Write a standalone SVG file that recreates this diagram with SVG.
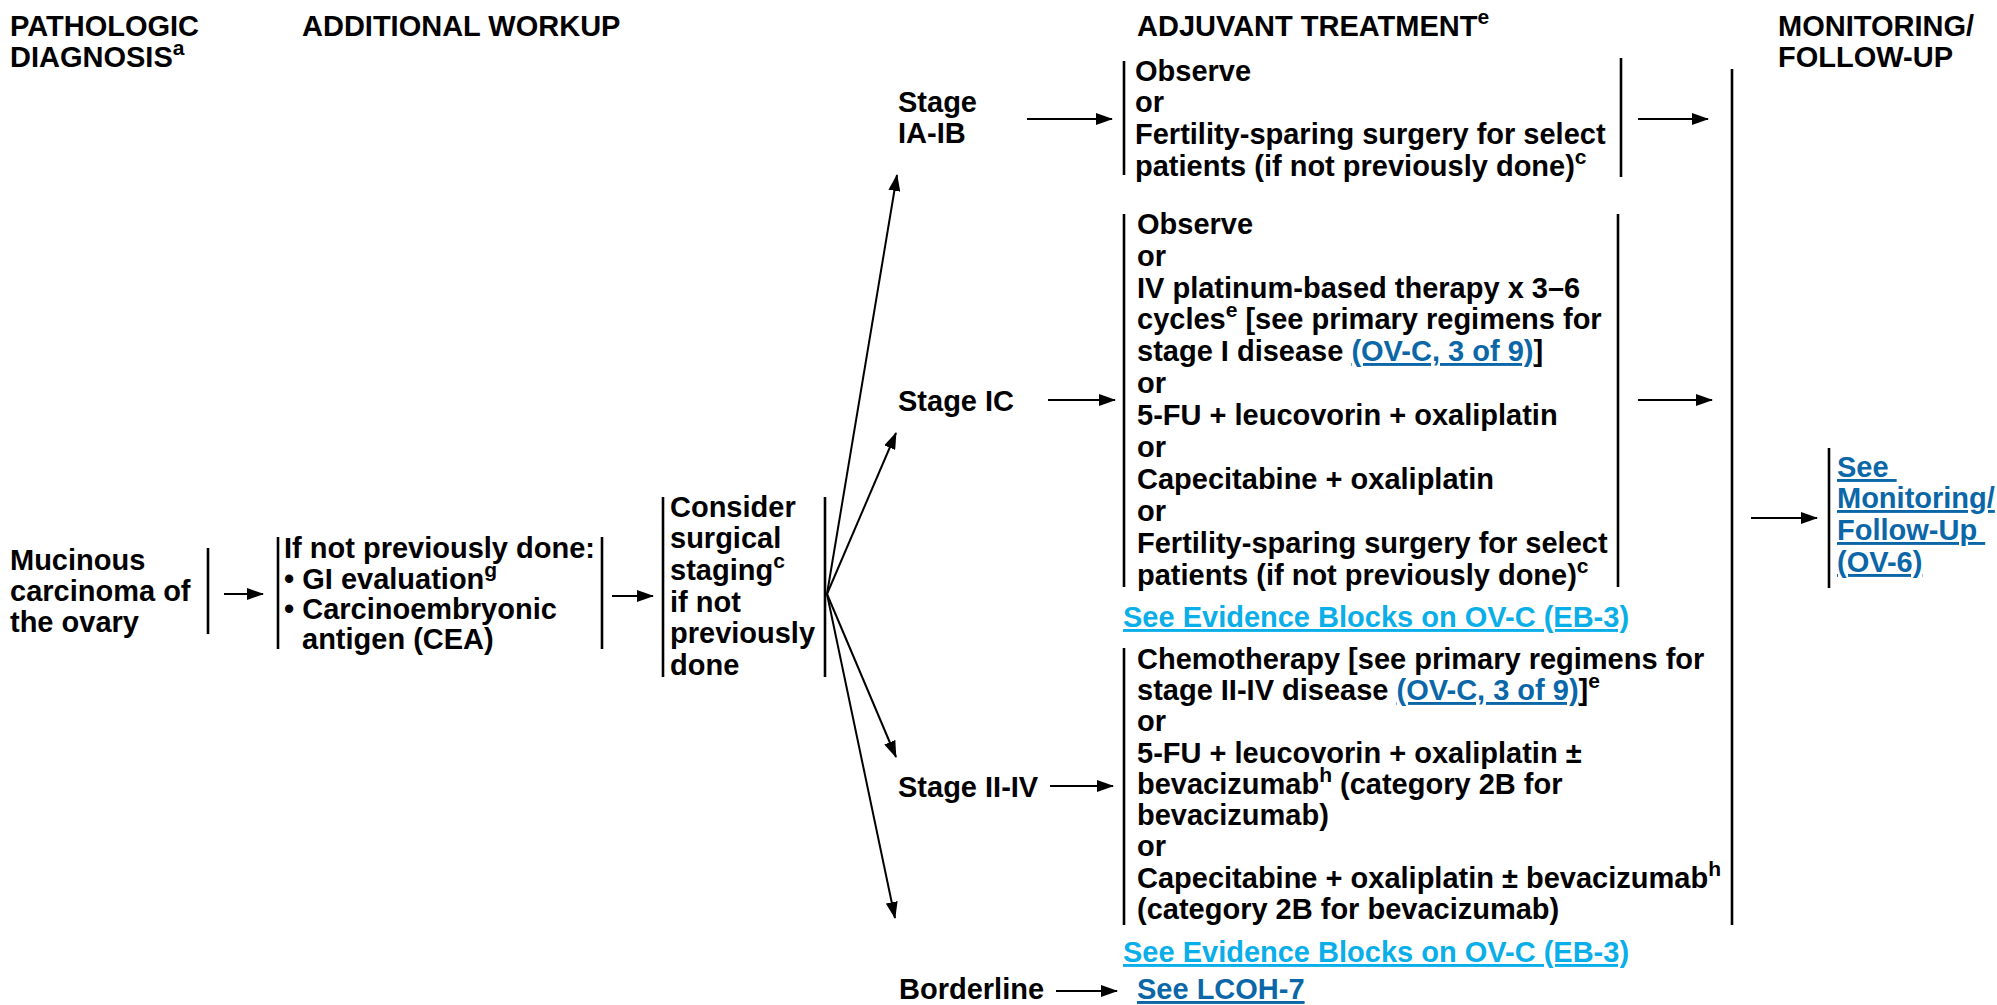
<svg xmlns="http://www.w3.org/2000/svg" width="1997" height="1005" viewBox="0 0 1997 1005">
  <style>
    text { font-family: "Liberation Sans", Arial, sans-serif; font-weight: bold; font-size: 29px; fill: #000; }
    .sup { font-size: 21px; }
    .link { fill: #0b67a8; text-decoration: underline; }
    .ev { fill: #0aaee8; text-decoration: underline; }
    .pre { white-space: pre; }
    .bar { stroke: #000; stroke-width: 2.6; fill: none; }
    .arr { stroke: #000; stroke-width: 2; fill: none; marker-end: url(#head); }
  </style>
  <defs>
    <marker id="head" markerUnits="userSpaceOnUse" markerWidth="17" markerHeight="12" refX="16" refY="6" orient="auto">
      <path d="M0,0 L17,6 L0,12 z" fill="#000"/>
    </marker>
  </defs>
  <rect width="1997" height="1005" fill="#fff"/>

  <!-- column headings -->
  <g id="headings">
    <text x="10" y="36">PATHOLOGIC</text>
    <text x="10" y="67">DIAGNOSIS<tspan class="sup" dy="-12">a</tspan></text>
    <text x="302" y="36">ADDITIONAL WORKUP</text>
    <text x="1137" y="36">ADJUVANT TREATMENT<tspan class="sup" dy="-12">e</tspan></text>
    <text x="1778" y="36">MONITORING/</text>
    <text x="1778" y="67">FOLLOW-UP</text>
  </g>

  <!-- diagnosis -->
  <g id="diagnosis">
    <text x="10" y="570">Mucinous</text>
    <text x="10" y="601">carcinoma of</text>
    <text x="10" y="632">the ovary</text>
    <line class="bar" x1="208" y1="548" x2="208" y2="634"/>
  </g>

  <!-- additional workup -->
  <g id="workup">
    <line class="bar" x1="278" y1="537" x2="278" y2="649"/>
    <text x="284" y="558">If not previously done:</text>
    <text x="284" y="589">• GI evaluation<tspan class="sup" dy="-12">g</tspan></text>
    <text x="284" y="619">• Carcinoembryonic</text>
    <text x="302" y="649">antigen (CEA)</text>
    <line class="bar" x1="602" y1="537" x2="602" y2="649"/>
  </g>

  <!-- surgical staging -->
  <g id="staging">
    <line class="bar" x1="663" y1="497" x2="663" y2="677"/>
    <text x="670" y="517">Consider</text>
    <text x="670" y="548">surgical</text>
    <text x="670" y="580">staging<tspan class="sup" dy="-12">c</tspan></text>
    <text x="670" y="612">if not</text>
    <text x="670" y="643">previously</text>
    <text x="670" y="675">done</text>
    <line class="bar" x1="825" y1="497" x2="825" y2="677"/>
  </g>

  <!-- stage labels -->
  <g id="stage-ia-ib">
    <text x="898" y="112">Stage</text>
    <text x="898" y="143">IA-IB</text>
  </g>
  <g id="stage-ic">
    <text x="898" y="411">Stage IC</text>
  </g>
  <g id="stage-ii-iv">
    <text x="898" y="797">Stage II-IV</text>
  </g>
  <g id="borderline">
    <text x="899" y="999">Borderline</text>
  </g>

  <!-- adjuvant options, stage IA-IB -->
  <g id="treat-ia-ib">
    <line class="bar" x1="1124" y1="61" x2="1124" y2="175"/>
    <text x="1135" y="81">Observe</text>
    <text x="1135" y="112">or</text>
    <text x="1135" y="144">Fertility-sparing surgery for select</text>
    <text x="1135" y="176">patients (if not previously done)<tspan class="sup" dy="-12">c</tspan></text>
    <line class="bar" x1="1621" y1="58" x2="1621" y2="177"/>
  </g>

  <!-- adjuvant options, stage IC -->
  <g id="treat-ic">
    <line class="bar" x1="1124" y1="214" x2="1124" y2="587"/>
    <text x="1137" y="234">Observe</text>
    <text x="1137" y="266">or</text>
    <text x="1137" y="298">IV platinum-based therapy x 3–6</text>
    <text x="1137" y="329">cycles<tspan class="sup" dy="-12">e</tspan><tspan dy="12"> [see primary regimens for</tspan></text>
    <text x="1137" y="361">stage I disease <tspan class="link">(OV-C, 3 of 9)</tspan>]</text>
    <text x="1137" y="393">or</text>
    <text x="1137" y="425">5-FU + leucovorin + oxaliplatin</text>
    <text x="1137" y="457">or</text>
    <text x="1137" y="489">Capecitabine + oxaliplatin</text>
    <text x="1137" y="521">or</text>
    <text x="1137" y="553">Fertility-sparing surgery for select</text>
    <text x="1137" y="585">patients (if not previously done)<tspan class="sup" dy="-12">c</tspan></text>
    <line class="bar" x1="1618" y1="214" x2="1618" y2="587"/>
    <text class="ev" x="1123" y="627">See Evidence Blocks on OV-C (EB-3)</text>
  </g>

  <!-- adjuvant options, stage II-IV -->
  <g id="treat-ii-iv">
    <line class="bar" x1="1124" y1="648" x2="1124" y2="925"/>
    <text x="1137" y="669">Chemotherapy [see primary regimens for</text>
    <text x="1137" y="700">stage II-IV disease <tspan class="link">(OV-C, 3 of 9)</tspan>]<tspan class="sup" dy="-12">e</tspan></text>
    <text x="1137" y="731">or</text>
    <text x="1137" y="763">5-FU + leucovorin + oxaliplatin ±</text>
    <text x="1137" y="794">bevacizumab<tspan class="sup" dy="-12">h</tspan><tspan dy="12"> (category 2B for</tspan></text>
    <text x="1137" y="825">bevacizumab)</text>
    <text x="1137" y="856">or</text>
    <text x="1137" y="888">Capecitabine + oxaliplatin ± bevacizumab<tspan class="sup" dy="-12">h</tspan></text>
    <text x="1137" y="919">(category 2B for bevacizumab)</text>
    <text class="ev" x="1123" y="962">See Evidence Blocks on OV-C (EB-3)</text>
  </g>

  <!-- borderline reference -->
  <g id="lcoh">
    <text class="link" x="1137" y="999">See LCOH-7</text>
  </g>

  <!-- collecting bar before follow-up -->
  <g id="collector">
    <line class="bar" x1="1732" y1="69" x2="1732" y2="925"/>
  </g>

  <!-- follow-up reference -->
  <g id="followup">
    <line class="bar" x1="1829" y1="448" x2="1829" y2="588"/>
    <text class="link pre" x="1837" y="477">See </text>
    <text class="link" x="1837" y="508">Monitoring/</text>
    <text class="link pre" x="1837" y="540">Follow-Up </text>
    <text class="link" x="1837" y="572">(OV-6)</text>
  </g>

  <!-- connectors -->
  <g id="connectors">
    <line class="arr" x1="224" y1="594" x2="263" y2="594"/>
    <line class="arr" x1="612" y1="596" x2="653" y2="596"/>
    <line class="arr" x1="827" y1="594" x2="897" y2="175"/>
    <line class="arr" x1="827" y1="594" x2="896" y2="433"/>
    <line class="arr" x1="827" y1="594" x2="896" y2="757"/>
    <line class="arr" x1="827" y1="594" x2="895" y2="918"/>
    <line class="arr" x1="1027" y1="119" x2="1112" y2="119"/>
    <line class="arr" x1="1048" y1="400" x2="1115" y2="400"/>
    <line class="arr" x1="1050" y1="786" x2="1113" y2="786"/>
    <line class="arr" x1="1056" y1="991" x2="1117" y2="991"/>
    <line class="arr" x1="1638" y1="119" x2="1708" y2="119"/>
    <line class="arr" x1="1638" y1="400" x2="1712" y2="400"/>
    <line class="arr" x1="1751" y1="518" x2="1817" y2="518"/>
  </g>
</svg>
